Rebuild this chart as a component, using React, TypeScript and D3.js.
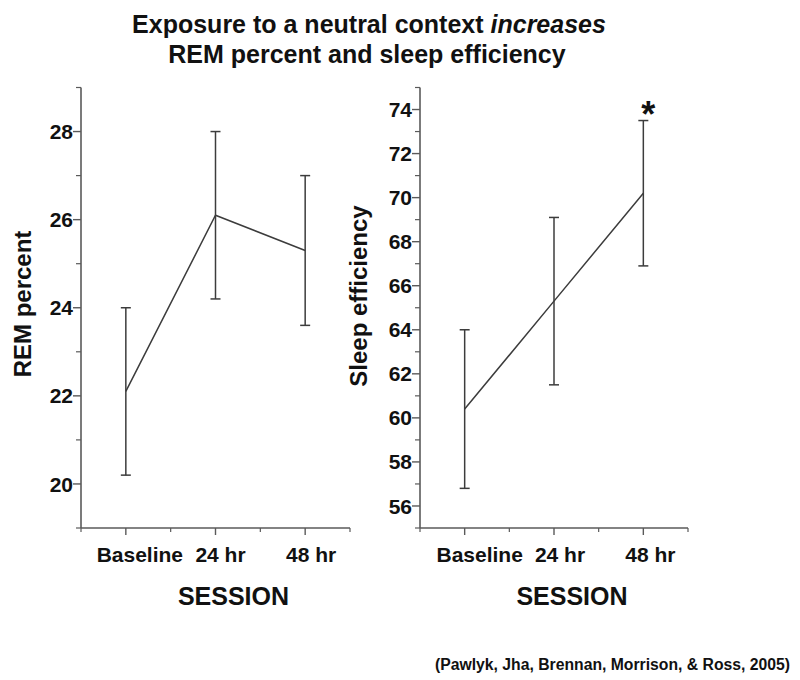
import React from "react";
import * as d3 from "d3";

const categories = ["Baseline", "24 hr", "48 hr"];
const categoryPositions = [1, 3, 5];
const labelOffsets = [14, 5, 6];

const remMean = [22.1, 26.1, 25.3];
const remLow = [20.2, 24.2, 23.6];
const remHigh = [24.0, 28.0, 27.0];
const remTicks = [20, 22, 24, 26, 28];

const sleepMean = [60.4, 65.3, 70.2];
const sleepLow = [56.8, 61.5, 66.9];
const sleepHigh = [64.0, 69.1, 73.5];
const sleepTicks = [56, 58, 60, 62, 64, 66, 68, 70, 72, 74];

const titleLine1 = "Exposure to a neutral context ";
const titleItalic = "increases";
const titleLine2 = "REM percent and sleep efficiency";
const xTitle = "SESSION";
const citation = "(Pawlyk, Jha, Brennan, Morrison, & Ross, 2005)";
const significant = [false, false, true];

const FONT = "'Liberation Sans', Arial, Helvetica, sans-serif";
const AXIS = "#5a5a5a";
const LINE = "#3c3c3c";

type PanelProps = {
  x0: number;
  x1: number;
  yDomain: [number, number];
  mean: number[];
  low: number[];
  high: number[];
  majorTicks: number[];
  yLabel: string;
  yLabelX: number;
  yLabelY: number;
  labelShift: number;
};

function Panel(p: PanelProps) {
  const x = d3.scaleLinear().domain([0, 6]).range([p.x0, p.x1]);
  const y = d3.scaleLinear().domain(p.yDomain).range([528, 87.5]);
  const minor = d3.range(p.yDomain[0], p.yDomain[1] + 1).filter((v) => !p.majorTicks.includes(v));
  const xMinor = d3.range(0, 7).filter((v) => !categoryPositions.includes(v));
  const line = d3
    .line<number>()
    .x((_, i) => x(categoryPositions[i]))
    .y((d) => y(d));
  return (
    <g>
      {/* y axis */}
      <line x1={x(0)} x2={x(0)} y1={y(p.yDomain[0])} y2={y(p.yDomain[1])} stroke={AXIS} strokeWidth={1.6} />
      {p.majorTicks.map((t) => (
        <g key={"m" + t}>
          <line x1={x(0) - 8} x2={x(0)} y1={y(t)} y2={y(t)} stroke={AXIS} strokeWidth={1.4} />
          <text
            x={x(0) - 8}
            y={y(t)}
            dy="0.36em"
            textAnchor="end"
            fontFamily={FONT}
            fontWeight="bold"
            fontSize={21}
            fill="#111"
          >
            {t}
          </text>
        </g>
      ))}
      {minor.map((t) => (
        <line key={"n" + t} x1={x(0) - 5} x2={x(0)} y1={y(t)} y2={y(t)} stroke={AXIS} strokeWidth={1.2} />
      ))}
      {/* x axis */}
      <line x1={x(0)} x2={x(6)} y1={y(p.yDomain[0])} y2={y(p.yDomain[0])} stroke={AXIS} strokeWidth={1.6} />
      {categoryPositions.map((c, i) => (
        <g key={"c" + c}>
          <line x1={x(c)} x2={x(c)} y1={528} y2={535} stroke={AXIS} strokeWidth={1.4} />
          <text
            x={x(c) + labelOffsets[i] + p.labelShift}
            y={562}
            textAnchor="middle"
            fontFamily={FONT}
            fontWeight="bold"
            fontSize={21}
            fill="#111"
          >
            {categories[i]}
          </text>
        </g>
      ))}
      {xMinor.map((v) => (
        <line key={"x" + v} x1={x(v)} x2={x(v)} y1={528} y2={532} stroke={AXIS} strokeWidth={1.2} />
      ))}
      {/* error bars */}
      {categoryPositions.map((c, i) => (
        <g key={"e" + c} stroke={LINE} strokeWidth={1.5}>
          <line x1={x(c)} x2={x(c)} y1={y(p.low[i])} y2={y(p.high[i])} />
          <line x1={x(c) - 5} x2={x(c) + 5} y1={y(p.low[i])} y2={y(p.low[i])} />
          <line x1={x(c) - 5} x2={x(c) + 5} y1={y(p.high[i])} y2={y(p.high[i])} />
        </g>
      ))}
      <path d={line(p.mean) || ""} fill="none" stroke={LINE} strokeWidth={1.5} />
      <text
        transform={`translate(${p.yLabelX},${p.yLabelY}) rotate(-90)`}
        textAnchor="middle"
        fontFamily={FONT}
        fontWeight="bold"
        fontSize={24}
        fill="#111"
      >
        {p.yLabel}
      </text>
      <text
        x={(x(0) + x(6)) / 2 + 18}
        y={605}
        textAnchor="middle"
        fontFamily={FONT}
        fontWeight="bold"
        fontSize={25}
        fill="#111"
      >
        {xTitle}
      </text>
    </g>
  );
}

export default function App() {
  const xR = d3.scaleLinear().domain([0, 6]).range([420, 688]);
  const yR = d3.scaleLinear().domain([55, 75]).range([528, 87.5]);
  return (
    <div style={{ position: "absolute", left: 0, top: 0 }}>
      <svg width={800} height={680} style={{ display: "block", background: "#fff" }}>
        <rect width={800} height={680} fill="#fff" />
        <text x={369} y={33} textAnchor="middle" fontFamily={FONT} fontWeight="bold" fontSize={25} fill="#111">
          {titleLine1}
          <tspan fontStyle="italic">{titleItalic}</tspan>
        </text>
        <text x={367} y={63} textAnchor="middle" fontFamily={FONT} fontWeight="bold" fontSize={25} fill="#111">
          {titleLine2}
        </text>
        <Panel
          x0={81}
          x1={350}
          yDomain={[19, 29]}
          mean={remMean}
          low={remLow}
          high={remHigh}
          majorTicks={remTicks}
          yLabel="REM percent"
          yLabelX={31}
          yLabelY={304}
          labelShift={0}
        />
        <Panel
          x0={420}
          x1={688}
          yDomain={[55, 75]}
          mean={sleepMean}
          low={sleepLow}
          high={sleepHigh}
          majorTicks={sleepTicks}
          yLabel="Sleep efficiency"
          yLabelX={367}
          yLabelY={296}
          labelShift={1}
        />
        {categoryPositions.map((c, i) =>
          significant[i] ? (
            <text
              key={"s" + c}
              x={xR(c) + 5}
              y={yR(sleepHigh[i]) + 6}
              textAnchor="middle"
              fontFamily={FONT}
              fontWeight="bold"
              fontSize={36}
              fill="#111"
            >
              *
            </text>
          ) : null
        )}
        <text
          x={435}
          y={670}
          fontFamily={FONT}
          fontWeight="bold"
          fontSize={16}
          textLength={355}
          lengthAdjust="spacingAndGlyphs"
          fill="#111"
        >
          {citation}
        </text>
      </svg>
    </div>
  );
}
